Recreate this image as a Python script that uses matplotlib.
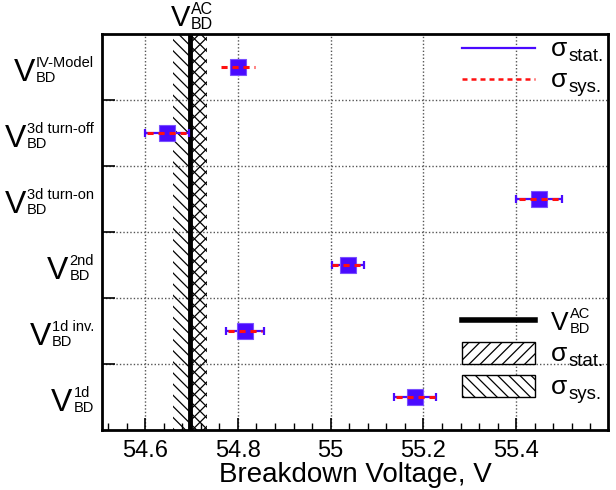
import matplotlib
matplotlib.use("Agg")
import matplotlib.pyplot as plt
from matplotlib.lines import Line2D
from matplotlib.patches import Rectangle
from matplotlib.ticker import MultipleLocator
import numpy as np

plt.rcParams['font.family'] = ['Liberation Sans', 'DejaVu Sans']
plt.rcParams['hatch.linewidth'] = 0.9

# ---- data (top to bottom) ----
label_sup = ['IV-Model', '3d turn-off', '3d turn-on', '2nd', '1d inv.', '1d']
label_sub = ['BD', 'BD', 'BD', 'BD', 'BD', 'BD']
values = [54.800, 54.647, 55.449, 55.037, 54.815, 55.182]
stat_err = [0.010, 0.047, 0.050, 0.035, 0.041, 0.046]
sys_err = [0.037, 0.043, 0.043, 0.034, 0.037, 0.042]

v_ac = 54.697
v_ac_sys = (54.660, 54.734)
v_ac_stat = (54.697, 54.734)

xticks = [54.6, 54.8, 55.0, 55.2, 55.4]
xticklabels = ['54.6', '54.8', '55', '55.2', '55.4']

W, H = 616, 490
fig = plt.figure(figsize=(W / 100, H / 100), dpi=100)
AX_L, AX_R, AX_T, AX_B = 102, 608, 34, 430
XMIN, XMAX = 54.507, 55.598
ax = fig.add_axes([AX_L / W, 1 - AX_B / H, (AX_R - AX_L) / W, (AX_B - AX_T) / H])
renderer = fig.canvas.get_renderer()

n = len(values)
ypos = np.arange(n)[::-1]  # top item at highest y
ax.set_ylim(-0.5, n - 0.5)
ax.set_xlim(XMIN, XMAX)

# hatched bands and AC line
ax.axvspan(v_ac_sys[0], v_ac_sys[1], facecolor='none', edgecolor='black',
           hatch='\\\\\\', linewidth=0, zorder=1)
ax.axvspan(v_ac_stat[0], v_ac_stat[1], facecolor='none', edgecolor='black',
           hatch='///', linewidth=0, zorder=1)
ax.axvline(v_ac, color='black', lw=3.5, zorder=3)

blue = '#4a0aff'
red = '#ff1010'
for y, v, se, sy in zip(ypos, values, stat_err, sys_err):
    ax.errorbar(v, y, xerr=se, fmt='none', ecolor=blue, elinewidth=1.6,
                capsize=3, capthick=1.6, zorder=4)
    ax.plot(v, y, marker='s', ms=11, color=blue, mec='#7a50ff', mew=0.8,
            zorder=6)
    ax.plot([v - sy, v + sy], [y, y], color=red, lw=2.2,
            linestyle=(0, (2, 1.6)), zorder=7)

# grid / ticks
ax.set_xticks(xticks)
ax.set_xticklabels(xticklabels, fontsize=17)
ax.xaxis.set_minor_locator(MultipleLocator(0.04))
ax.grid(True, axis='x', which='major', linestyle=(0, (1, 1.5)), color='#555555', lw=1.0)
bounds = np.arange(n - 1) + 0.5
ax.set_yticks(bounds)
ax.set_yticklabels([])
ax.grid(True, axis='y', which='major', linestyle=(0, (1, 1.5)), color='#555555', lw=1.0)
ax.set_axisbelow(True)
ax.tick_params(axis='x', which='major', direction='in', length=9, width=1.2,
               top=False, pad=7)
ax.tick_params(axis='x', which='minor', direction='in', length=5, width=1.0, top=False)
ax.tick_params(axis='y', which='major', direction='in', length=9, width=1.2, left=True,
               right=False)
for s in ax.spines.values():
    s.set_linewidth(2.0)

ax.set_xlabel('Breakdown Voltage, V', fontsize=20, labelpad=0)


def px_width(s, size):
    t = fig.text(0, 0, s, fontsize=size)
    w = t.get_window_extent(renderer).width
    t.remove()
    return w


def fx(px):
    return px / W


def fy(py):
    return 1 - py / H


def sym_label(x, yc, base, sup, sub, bsize, ssize, align='right', gap=1.0,
              sub_drop=1.0, sup_raise=2.0):
    """Draw base^sup_sub; x is right edge (align='right'), left edge or centre."""
    wb = px_width(base, bsize)
    ws = max(px_width(sup, ssize) if sup else 0, px_width(sub, ssize) if sub else 0)
    total = wb + gap + ws
    if align == 'right':
        x0 = x - total
    elif align == 'center':
        x0 = x - total / 2
    else:
        x0 = x
    cap_b = 0.716 * bsize * 100 / 72
    cap_s = 0.716 * ssize * 100 / 72
    base_line = yc + cap_b / 2
    v_top = base_line - cap_b
    fig.text(fx(x0), fy(base_line), base, fontsize=bsize, ha='left', va='baseline')
    xs = x0 + wb + gap
    if sup:
        fig.text(fx(xs), fy(v_top - sup_raise + cap_s), sup,
                 fontsize=ssize, ha='left', va='baseline')
    if sub:
        fig.text(fx(xs), fy(base_line + sub_drop), sub, fontsize=ssize,
                 ha='left', va='baseline')


# category labels
row_h = (AX_B - AX_T) / n
for i, (sp, sb) in enumerate(zip(label_sup, label_sub)):
    yc = AX_T + row_h * (i + 0.5) + 3
    sym_label(AX_L - 8, yc, 'V', sp, sb, 23, 10.5, align='right')

# top label above AC line
x_ac_px = AX_L + (v_ac - XMIN) / (XMAX - XMIN) * (AX_R - AX_L)
sym_label(x_ac_px + 2, 16, 'V', 'AC', 'BD', 21, 11.5, align='center',
          sub_drop=3.0, sup_raise=3.0)

# legends drawn manually
x0, x1, xt = 462, 535, 551
ax.add_artist(Line2D([fx(x0), fx(x1)], [fy(48), fy(48)], transform=fig.transFigure,
                     color=blue, lw=1.6))
ax.add_artist(Line2D([fx(x0), fx(x1)], [fy(79), fy(79)], transform=fig.transFigure,
                     color=red, lw=1.8, linestyle=(0, (2, 1.6))))
ax.add_artist(Line2D([fx(x0), fx(x1)], [fy(320), fy(320)], transform=fig.transFigure,
                     color='black', lw=4))
fig.add_artist(Rectangle((fx(x0), fy(364)), fx(x1) - fx(x0), fy(342) - fy(364),
                         transform=fig.transFigure, facecolor='white', edgecolor='black',
                         hatch='///', lw=1.0))
fig.add_artist(Rectangle((fx(x0), fy(397)), fx(x1) - fx(x0), fy(375) - fy(397),
                         transform=fig.transFigure, facecolor='white', edgecolor='black',
                         hatch='\\\\\\', lw=1.0))


def sigma_label(x, yc, sub):
    ws = px_width('σ', 19)
    fig.text(fx(x), fy(yc + 8), 'σ', fontsize=19, ha='left', va='baseline')
    fig.text(fx(x + ws + 1), fy(yc + 13), sub, fontsize=13.5, ha='left', va='baseline')


sigma_label(xt, 48, 'stat.')
sigma_label(xt, 79, 'sys.')
sym_label(xt, 321, 'V', 'AC', 'BD', 19, 10.5, align='left', sub_drop=3.0, sup_raise=3.5)
sigma_label(xt, 353, 'stat.')
sigma_label(xt, 386, 'sys.')

fig.savefig('out.png', dpi=100)
